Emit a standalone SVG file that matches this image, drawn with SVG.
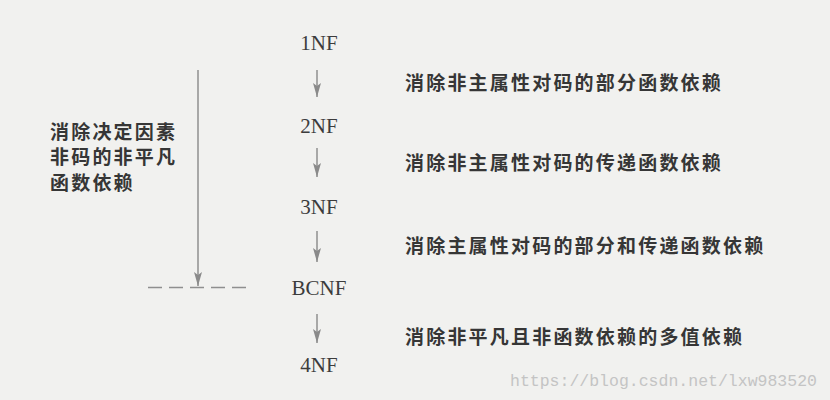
<svg xmlns="http://www.w3.org/2000/svg" width="830" height="400" viewBox="0 0 830 400">
<defs>
<marker id="ah" viewBox="0 0 14 8" refX="14" refY="4" markerWidth="14" markerHeight="8" markerUnits="userSpaceOnUse" orient="auto">
<path d="M0,0 L14,4 L0,8 L3,4 Z" fill="#8a8a8a"/>
</marker>
<style>
.nf{font-family:"Liberation Serif","Times New Roman",serif;font-size:21px;fill:#3c3c3c;text-anchor:middle}
.lb{font-family:"Noto Sans CJK SC","Noto Sans CJK TC",sans-serif;font-weight:bold;font-size:19px;letter-spacing:2.2px;fill:#363636}
.ln{stroke:#8f8f8f;stroke-width:1.5;fill:none}
.wm{font-family:"Liberation Mono","Courier New",monospace;font-size:16.5px;fill:#c4c4c4}
</style>
</defs>
<rect width="830" height="400" fill="#f1f1ef"/>
<g id="n1NF"><text class="nf" x="319" y="50">1NF</text></g>
<g id="n2NF"><text class="nf" x="319" y="133">2NF</text></g>
<g id="n3NF"><text class="nf" x="319" y="214">3NF</text></g>
<g id="nBCNF"><text class="nf" x="319" y="295">BCNF</text></g>
<g id="n4NF"><text class="nf" x="319" y="372">4NF</text></g>
<g id="labels">
<text class="lb" x="405" y="90">消除非主属性对码的部分函数依赖</text>
<text class="lb" x="405" y="170">消除非主属性对码的传递函数依赖</text>
<text class="lb" x="405" y="253">消除主属性对码的部分和传递函数依赖</text>
<text class="lb" x="405" y="344">消除非平凡且非函数依赖的多值依赖</text>
</g>
<g id="leftLabel">
<text class="lb" x="50" y="139">消除决定因素</text>
<text class="lb" x="50" y="164">非码的非平凡</text>
<text class="lb" x="50" y="190">函数依赖</text>
</g>
<g id="connectors">
<line class="ln" x1="317" y1="70" x2="317" y2="97" marker-end="url(#ah)"/>
<line class="ln" x1="317" y1="148" x2="317" y2="177" marker-end="url(#ah)"/>
<line class="ln" x1="317" y1="231" x2="317" y2="262" marker-end="url(#ah)"/>
<line class="ln" x1="317" y1="314" x2="317" y2="343" marker-end="url(#ah)"/>
<line class="ln" x1="198" y1="70" x2="198" y2="286" marker-end="url(#ah)"/>
<line class="ln" x1="148" y1="287.5" x2="250" y2="287.5" stroke-dasharray="14 7"/>
</g>
<text class="wm" x="510" y="386">https://blog.csdn.net/lxw983520</text>
</svg>
